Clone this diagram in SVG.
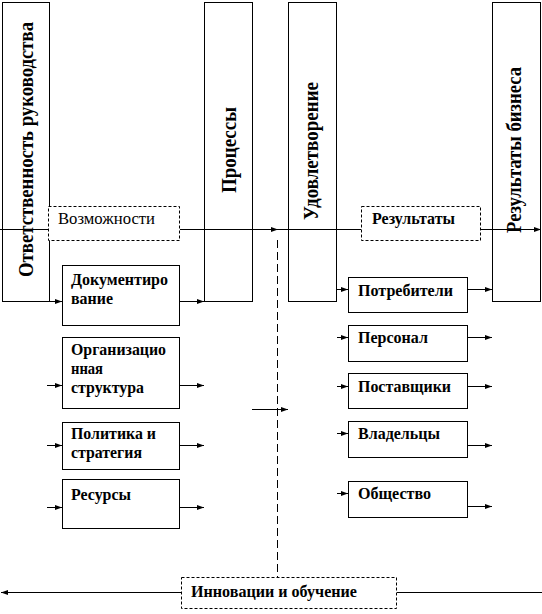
<svg xmlns="http://www.w3.org/2000/svg" width="542" height="614" viewBox="0 0 542 614" font-family="Liberation Serif, Times New Roman, serif">
<style>
.box{fill:none;stroke:#000;stroke-width:1}
.dbox{fill:#fff;stroke:#000;stroke-width:1;stroke-dasharray:3,2}
.ln{fill:none;stroke:#000;stroke-width:1}
.arr{fill:none;stroke:#000;stroke-width:1;marker-end:url(#ah)}
.dash{fill:none;stroke:#000;stroke-width:1;stroke-dasharray:8,4}
.vt{font-size:22px;font-weight:bold;fill:#000}
.t{font-size:16px;font-weight:bold;fill:#000}
.tn{font-size:16px;fill:#000}
</style>
<defs>
<marker id="ah" markerUnits="userSpaceOnUse" markerWidth="8" markerHeight="6" refX="7" refY="3" orient="auto">
<path d="M0,0.5 L7,3 L0,5.5 z" fill="#000"/>
</marker>
</defs>
<rect width="542" height="614" fill="#fff"/>
<g id="connectors">
<line class="ln" x1="0" y1="229.5" x2="48" y2="229.5"/>
<line class="arr" x1="180" y1="229.5" x2="278" y2="229.5"/>
<line class="ln" x1="278" y1="229.5" x2="361" y2="229.5"/>
<line class="arr" x1="481" y1="229.5" x2="541" y2="229.5"/>
<line class="dash" x1="277.5" y1="240" x2="277.5" y2="577"/>
<line class="arr" x1="181" y1="592.5" x2="1" y2="592.5"/>
<line class="ln" x1="397" y1="592.5" x2="542" y2="592.5"/>
<line class="arr" x1="49" y1="301.5" x2="62" y2="301.5"/>
<line class="arr" x1="180" y1="301.5" x2="204" y2="301.5"/>
<line class="arr" x1="47" y1="385.5" x2="62" y2="385.5"/>
<line class="arr" x1="180" y1="385.5" x2="204" y2="385.5"/>
<line class="arr" x1="47" y1="445.5" x2="62" y2="445.5"/>
<line class="arr" x1="180" y1="445.5" x2="204" y2="445.5"/>
<line class="arr" x1="47" y1="507.5" x2="62" y2="507.5"/>
<line class="arr" x1="180" y1="507.5" x2="204" y2="507.5"/>
<line class="arr" x1="252" y1="409.5" x2="288" y2="409.5"/>
<line class="arr" x1="337" y1="289.5" x2="348" y2="289.5"/>
<line class="arr" x1="468" y1="289.5" x2="492" y2="289.5"/>
<line class="arr" x1="337" y1="337.5" x2="348" y2="337.5"/>
<line class="arr" x1="468" y1="337.5" x2="492" y2="337.5"/>
<line class="arr" x1="337" y1="386.5" x2="348" y2="386.5"/>
<line class="arr" x1="468" y1="386.5" x2="492" y2="386.5"/>
<line class="arr" x1="337" y1="433.5" x2="348" y2="433.5"/>
<line class="arr" x1="468" y1="445.5" x2="492" y2="445.5"/>
<line class="arr" x1="337" y1="493.5" x2="348" y2="493.5"/>
<line class="arr" x1="468" y1="506.5" x2="492" y2="506.5"/>
</g>
<g id="otvetstvennost">
<rect class="box" x="2.5" y="2.5" width="47" height="299"/>
<text class="vt" font-family="Liberation Serif, serif" transform="translate(33,277) rotate(-90)" textLength="255" lengthAdjust="spacingAndGlyphs">Ответственность руководства</text>
</g>
<g id="processy">
<rect class="box" x="204.5" y="2.5" width="48" height="299"/>
<text class="vt" font-family="Liberation Serif, serif" transform="translate(236,193) rotate(-90)" textLength="86" lengthAdjust="spacingAndGlyphs">Процессы</text>
</g>
<g id="udovletvorenie">
<rect class="box" x="288.5" y="2.5" width="48" height="299"/>
<text class="vt" font-family="Liberation Serif, serif" transform="translate(318,220) rotate(-90)" textLength="138" lengthAdjust="spacingAndGlyphs">Удовлетворение</text>
</g>
<g id="rezultaty-biznesa">
<rect class="box" x="492.5" y="2.5" width="48" height="299"/>
<text class="vt" font-family="Liberation Serif, serif" transform="translate(521,233) rotate(-90)" textLength="166" lengthAdjust="spacingAndGlyphs">Результаты бизнеса</text>
</g>
<g id="vozmozhnosti">
<rect class="dbox" x="48.5" y="206.5" width="131" height="34"/>
<text class="tn" x="58" y="224" textLength="97" lengthAdjust="spacingAndGlyphs">Возможности</text>
</g>
<g id="rezultaty">
<rect class="dbox" x="361.5" y="206.5" width="119" height="34"/>
<text class="t" x="372" y="224" textLength="83" lengthAdjust="spacingAndGlyphs">Результаты</text>
</g>
<g id="innovacii">
<rect class="dbox" x="181.5" y="577.5" width="215" height="31"/>
<text class="t" x="191" y="597" textLength="166" lengthAdjust="spacingAndGlyphs">Инновации и обучение</text>
</g>
<g id="dokumentirovanie">
<rect class="box" x="62.5" y="265.5" width="117" height="60"/>
<text class="t" x="71" y="285" textLength="97" lengthAdjust="spacingAndGlyphs">Документиро</text>
<text class="t" x="71" y="304" textLength="42" lengthAdjust="spacingAndGlyphs">вание</text>
</g>
<g id="org-struktura">
<rect class="box" x="62.5" y="337.5" width="117" height="71"/>
<text class="t" x="71" y="355" textLength="95" lengthAdjust="spacingAndGlyphs">Организацио</text>
<text class="t" x="71" y="374" textLength="32" lengthAdjust="spacingAndGlyphs">нная</text>
<text class="t" x="71" y="393" textLength="73" lengthAdjust="spacingAndGlyphs">структура</text>
</g>
<g id="politika">
<rect class="box" x="62.5" y="422.5" width="117" height="47"/>
<text class="t" x="71" y="439" textLength="85" lengthAdjust="spacingAndGlyphs">Политика и</text>
<text class="t" x="71" y="458" textLength="71" lengthAdjust="spacingAndGlyphs">стратегия</text>
</g>
<g id="resursy">
<rect class="box" x="62.5" y="479.5" width="117" height="49"/>
<text class="t" x="71" y="500" textLength="60" lengthAdjust="spacingAndGlyphs">Ресурсы</text>
</g>
<g id="potrebiteli">
<rect class="box" x="348.5" y="277.5" width="119" height="35"/>
<text class="t" x="358" y="296" textLength="95" lengthAdjust="spacingAndGlyphs">Потребители</text>
</g>
<g id="personal">
<rect class="box" x="348.5" y="325.5" width="119" height="36"/>
<text class="t" x="358" y="343" textLength="70" lengthAdjust="spacingAndGlyphs">Персонал</text>
</g>
<g id="postavshchiki">
<rect class="box" x="348.5" y="373.5" width="119" height="35"/>
<text class="t" x="358" y="392" textLength="93" lengthAdjust="spacingAndGlyphs">Поставщики</text>
</g>
<g id="vladelcy">
<rect class="box" x="348.5" y="421.5" width="119" height="36"/>
<text class="t" x="358" y="439" textLength="82" lengthAdjust="spacingAndGlyphs">Владельцы</text>
</g>
<g id="obshchestvo">
<rect class="box" x="348.5" y="481.5" width="119" height="36"/>
<text class="t" x="358" y="499" textLength="73" lengthAdjust="spacingAndGlyphs">Общество</text>
</g>
</svg>
